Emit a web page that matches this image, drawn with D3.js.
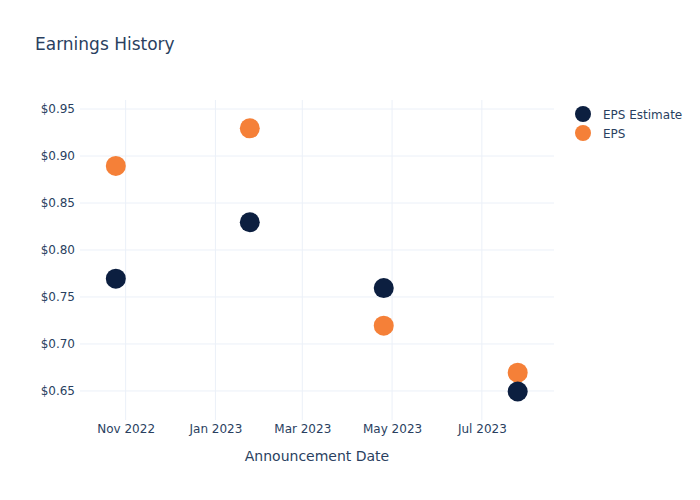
<!DOCTYPE html>
<html>
<head>
<meta charset="utf-8">
<script src="https://cdn.jsdelivr.net/npm/d3@7"></script>
<style>
  body { margin: 0; background: #fff; }
  text { font-family: "DejaVu Sans", Verdana, sans-serif; fill: #2a3f5f; }
</style>
</head>
<body>
<div id="chart"></div>
<script>
// chart data
var dates = ["2022-10-25", "2023-01-24", "2023-04-25", "2023-07-25"];
var epsEstimate = [0.77, 0.83, 0.76, 0.65];
var eps = [0.89, 0.93, 0.72, 0.67];
var yTicks = [0.65, 0.70, 0.75, 0.80, 0.85, 0.90, 0.95];
var xTicks = ["2022-11-01", "2023-01-01", "2023-03-01", "2023-05-01", "2023-07-01"];
var seriesNames = ["EPS Estimate", "EPS"];
var seriesColors = ["#0c1f40", "#f58038"];

var parse = d3.timeParse("%Y-%m-%d");

var width = 700, height = 500;
var margin = {left: 80, right: 146, top: 100, bottom: 80};

var svg = d3.select('#chart').append('svg')
  .attr('width', width)
  .attr('height', height);

var x = d3.scaleTime()
  .domain([parse("2022-10-01"), parse("2023-08-19")])
  .range([margin.left, width - margin.right]);

var y = d3.scaleLinear()
  .domain([0.6191, 0.9596])
  .range([height - margin.bottom, margin.top]);

//grid lines
svg.append('g').selectAll('line').data(yTicks).enter().append('line')
  .attr('x1', margin.left).attr('x2', width - margin.right)
  .attr('y1', function(d){ return y(d); }).attr('y2', function(d){ return y(d); })
  .style('stroke', '#ebf0f8').style('stroke-width', 1);

svg.append('g').selectAll('line').data(xTicks).enter().append('line')
  .attr('x1', function(d){ return x(parse(d)); }).attr('x2', function(d){ return x(parse(d)); })
  .attr('y1', margin.top).attr('y2', height - margin.bottom)
  .style('stroke', '#ebf0f8').style('stroke-width', 1);

//axes
var yAxis = d3.axisLeft(y).tickValues(yTicks).tickSize(0).tickPadding(4)
  .tickFormat(function(d){ return '$' + d.toFixed(2); });
svg.append('g').attr('transform', 'translate(' + (margin.left - 1) + ',0)').call(yAxis)
  .call(function(g){ g.select('.domain').remove(); })
  .selectAll('text').style('font-size', '12px').attr('fill', '#2a3f5f');

var xAxis = d3.axisBottom(x).tickValues(xTicks.map(parse)).tickSize(0).tickPadding(4)
  .tickFormat(d3.timeFormat('%b %Y'));
svg.append('g').attr('transform', 'translate(0,' + (height - margin.bottom) + ')').call(xAxis)
  .call(function(g){ g.select('.domain').remove(); })
  .selectAll('text').style('font-size', '12px').attr('fill', '#2a3f5f');

//axis title
svg.append('text')
  .attr('x', (margin.left + width - margin.right) / 2)
  .attr('y', 461)
  .attr('text-anchor', 'middle')
  .style('font-size', '14px')
  .text('Announcement Date');

//title
svg.append('text')
  .attr('x', 35).attr('y', 50)
  .style('font-size', '17px')
  .text('Earnings History');

//points: EPS first, estimate on top
var series = [epsEstimate, eps];
[1, 0].forEach(function(s){
  svg.append('g').selectAll('circle').data(series[s]).enter().append('circle')
    .attr('cx', function(d, i){ return x(parse(dates[i])) + 0.5; })
    .attr('cy', function(d){ return y(d) + 0.5; })
    .attr('r', 10)
    .style('fill', seriesColors[s]);
});

//legend
var legend = svg.append('g').attr('transform', 'translate(583,114)');
seriesNames.forEach(function(name, i){
  legend.append('circle').attr('cx', 0).attr('cy', i * 19).attr('r', 8)
    .style('fill', seriesColors[i]);
  legend.append('text').attr('x', 20).attr('y', i * 19 + 4.5)
    .style('font-size', '12px').text(name);
});
</script>
</body>
</html>
